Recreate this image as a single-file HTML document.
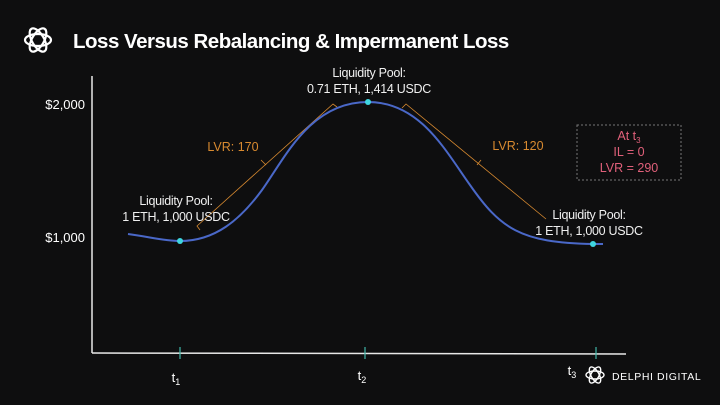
<!DOCTYPE html>
<html><head><style>
body{margin:0;background:#0e0e0f;}
svg{display:block;font-family:"Liberation Sans",sans-serif;}
</style></head><body>
<svg width="720" height="405" viewBox="0 0 720 405">
<rect width="720" height="405" fill="#0e0e0f"/>
<g fill="none" stroke="#fff" stroke-width="2.2">
<ellipse cx="38" cy="40" rx="13" ry="6"/>
<ellipse cx="38" cy="40" rx="13" ry="6" transform="rotate(60 38 40)"/>
<ellipse cx="38" cy="40" rx="13" ry="6" transform="rotate(120 38 40)"/>
</g>
<text x="73" y="48" fill="#fff" font-size="20.5" font-weight="bold" letter-spacing="-0.5">Loss Versus Rebalancing &amp; Impermanent Loss</text>
<line x1="92" y1="76" x2="92" y2="353" stroke="#e8e8e8" stroke-width="1.5"/>
<line x1="92" y1="353" x2="626" y2="354" stroke="#e8e8e8" stroke-width="1.5"/>
<g stroke="#3fb5a8" stroke-width="1.2">
<line x1="180" y1="347" x2="180" y2="359"/>
<line x1="365" y1="347" x2="365" y2="359"/>
<line x1="596" y1="347" x2="596" y2="359"/>
</g>
<g fill="#fff" font-size="13" text-anchor="end">
<text x="85" y="109">$2,000</text>
<text x="85" y="242">$1,000</text>
</g>
<g fill="#fff" font-size="13" text-anchor="middle">
<text x="176" y="382">t<tspan font-size="9" dy="3">1</tspan></text>
<text x="362" y="380">t<tspan font-size="9" dy="3">2</tspan></text>
<text x="572" y="375">t<tspan font-size="9" dy="3">3</tspan></text>
</g>
<g stroke="#d88a30" stroke-width="0.8" fill="none">
<path d="M200 230 L197 226 L333 104 L337 107"/><path d="M261 160 L266 165"/>
<path d="M402 108 L406 104 L546 219"/><path d="M477 165 L481 160"/>
</g>
<path d="M128 234 C150 237 165 241 180 241 C215 241 240 220 262 190 C285 158 310 102 368 102 C420 102 445 150 470 185 C500 228 520 243 593 244 L603 244" fill="none" stroke="#4a68c8" stroke-width="2"/>
<g fill="#3fd6e0"><circle cx="180" cy="241" r="3"/><circle cx="368" cy="102" r="3"/><circle cx="593" cy="244" r="3"/></g>
<g fill="#f0f0f0" font-size="12.5" text-anchor="middle" letter-spacing="-0.3">
<text x="369" y="77">Liquidity Pool:</text>
<text x="369" y="93">0.71 ETH, 1,414 USDC</text>
<text x="176" y="205">Liquidity Pool:</text>
<text x="176" y="221">1 ETH, 1,000 USDC</text>
<text x="589" y="219">Liquidity Pool:</text>
<text x="589" y="235">1 ETH, 1,000 USDC</text>
</g>
<g fill="#d88a30" font-size="12.5" text-anchor="middle">
<text x="233" y="151">LVR:  170</text>
<text x="518" y="150">LVR:  120</text>
</g>
<rect x="577" y="125" width="104" height="55" fill="none" stroke="#777" stroke-dasharray="2 2"/>
<g fill="#e0607a" font-size="12.5" text-anchor="middle">
<text x="629" y="140">At t<tspan font-size="8" dy="3">3</tspan></text>
<text x="629" y="156">IL = 0</text>
<text x="629" y="172">LVR = 290</text>
</g>
<g fill="none" stroke="#fff" stroke-width="1.4">
<ellipse cx="595" cy="375" rx="9" ry="4"/>
<ellipse cx="595" cy="375" rx="9" ry="4" transform="rotate(60 595 375)"/>
<ellipse cx="595" cy="375" rx="9" ry="4" transform="rotate(120 595 375)"/>
</g>
<text x="612" y="380" fill="#fff" font-size="10.5" letter-spacing="0.6">DELPHI DIGITAL</text>
</svg>
</body></html>
